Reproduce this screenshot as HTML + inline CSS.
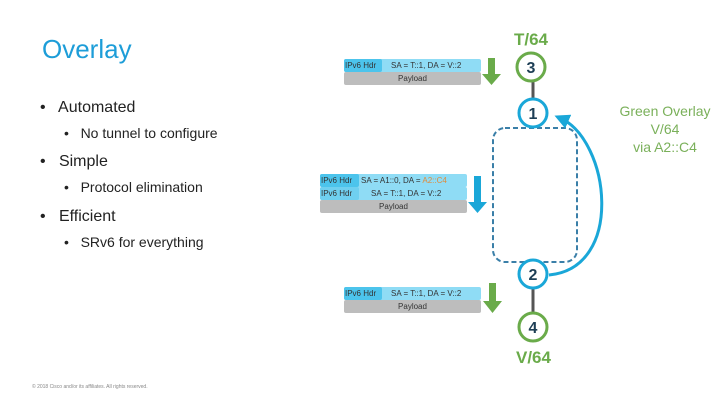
<!DOCTYPE html>
<html><head><style>
body{margin:0;width:720px;height:405px;background:#fff;position:relative;overflow:hidden;font-family:"Liberation Sans",sans-serif}
.t{position:absolute;white-space:nowrap}
.pk{position:absolute;font-size:8px;color:#333}
.row{position:absolute;left:0;height:13px;line-height:13px;border-radius:2px}
</style></head><body>
<div class="t" style="left:42px;top:34px;font-size:26px;color:#1d9dd8">Overlay</div>
<div class="t" style="left:40px;top:99px;font-size:16px;color:#222">•&nbsp;&nbsp; Automated</div>
<div class="t" style="left:64px;top:125px;font-size:14px;color:#222">•&nbsp;&nbsp; No tunnel to configure</div>
<div class="t" style="left:40px;top:153px;font-size:16px;color:#222">•&nbsp;&nbsp; Simple</div>
<div class="t" style="left:64px;top:179px;font-size:14px;color:#222">•&nbsp;&nbsp; Protocol elimination</div>
<div class="t" style="left:40px;top:208px;font-size:16px;color:#222">•&nbsp;&nbsp; Efficient</div>
<div class="t" style="left:64px;top:234px;font-size:14px;color:#222">•&nbsp;&nbsp; SRv6 for everything</div>
<div class="t" style="left:32px;top:384px;font-size:5px;color:#888">© 2018 Cisco and/or its affiliates. All rights reserved.</div>

<div class="t" style="left:514px;top:30px;font-size:17px;font-weight:bold;color:#6aab4a">T/64</div>
<div class="t" style="left:516px;top:348px;font-size:17px;font-weight:bold;color:#6aab4a">V/64</div>
<div class="t" style="left:610px;top:102px;width:110px;text-align:center;font-size:14px;line-height:18px;color:#7ab05a">Green Overlay<br>V/64<br>via A2::C4</div>

<!-- packets -->
<div class="pk" style="left:344px;top:59px;width:137px;height:26px">
<div class="row" style="top:0;width:137px;background:#8fdcf5"></div>
<div class="row" style="top:0;width:37px;background:#4cc4ec;padding-left:1px">IPv6 Hdr</div>
<div class="row" style="top:0;left:47px">SA = T::1, DA = V::2</div>
<div class="row" style="top:13px;width:137px;background:#bdbdbd;text-align:center">Payload</div></div>

<div class="pk" style="left:320px;top:174px;width:147px;height:40px">
<div class="row" style="top:0;width:147px;background:#8fdcf5"></div>
<div class="row" style="top:0;width:38px;background:#4cc4ec;padding-left:1px">IPv6 Hdr</div>
<div class="row" style="top:0;left:41px">SA = A1::0, DA = <span style="color:#e08a3a">A2::C4</span></div>
<div class="row" style="top:13px;width:147px;background:#8fdcf5"></div>
<div class="row" style="top:13px;width:38px;background:#6fd0f0;padding-left:1px">IPv6 Hdr</div>
<div class="row" style="top:13px;left:51px">SA = T::1, DA = V::2</div>
<div class="row" style="top:26px;width:147px;background:#bdbdbd;text-align:center">Payload</div></div>

<div class="pk" style="left:344px;top:287px;width:137px;height:26px">
<div class="row" style="top:0;width:137px;background:#8fdcf5"></div>
<div class="row" style="top:0;width:37px;background:#4cc4ec;padding-left:1px">IPv6 Hdr</div>
<div class="row" style="top:0;left:47px">SA = T::1, DA = V::2</div>
<div class="row" style="top:13px;width:137px;background:#bdbdbd;text-align:center">Payload</div></div>

<svg width="720" height="405" style="position:absolute;left:0;top:0">
<defs><marker id="ah" markerWidth="5" markerHeight="5" refX="3" refY="2.5" orient="auto"><path d="M0,0 L5,2.5 L0,5z" fill="#1aa7d8"/></marker></defs>
<path d="M488,58 h7 v16 h6 l-9.5,11 l-9.5,-11 h6z" fill="#6aab4a"/>
<path d="M474,176 h7 v26 h6 l-9.5,11 l-9.5,-11 h6z" fill="#1aa7d8"/>
<path d="M489,283 h7 v18 h6 l-9.5,12 l-9.5,-12 h6z" fill="#6aab4a"/>
<line x1="533" y1="82" x2="533" y2="98" stroke="#555" stroke-width="3"/>
<line x1="533" y1="289" x2="533" y2="312" stroke="#555" stroke-width="3"/>
<rect x="493" y="128" width="84" height="134" rx="12" fill="none" stroke="#3a7fa8" stroke-width="2" stroke-dasharray="5,3"/>
<path d="M549,275 C625,268 610,140 560,118" fill="none" stroke="#1aa7d8" stroke-width="3" marker-end="url(#ah)"/>
<g font-family="Liberation Sans" font-weight="bold" font-size="16" fill="#1d3e55" text-anchor="middle">
<circle cx="531" cy="67" r="14" fill="#fff" stroke="#6aab4a" stroke-width="3"/><text x="531" y="73">3</text>
<circle cx="533" cy="113" r="14" fill="#fff" stroke="#1aa7d8" stroke-width="3"/><text x="533" y="119">1</text>
<circle cx="533" cy="274" r="14" fill="#fff" stroke="#1aa7d8" stroke-width="3"/><text x="533" y="280">2</text>
<circle cx="533" cy="327" r="14" fill="#fff" stroke="#6aab4a" stroke-width="3"/><text x="533" y="333">4</text>
</g></svg>
</body></html>
